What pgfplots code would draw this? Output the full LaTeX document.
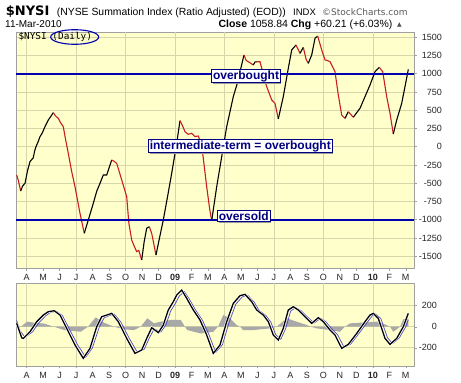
\documentclass[border=0pt]{standalone}
\usepackage{fontspec}
\setmainfont{Liberation Sans}
\newfontfamily\dejavu{DejaVu Sans}
\newfontfamily\dmono{DejaVu Sans Mono}
\usepackage{pgfplots}
\pgfplotsset{compat=1.18}
\usetikzlibrary{shadows}
\definecolor{bgy}{RGB}{255,255,204}
\definecolor{gridc}{RGB}{214,214,170}
\definecolor{navyb}{RGB}{0,0,175}
\definecolor{boxblue}{RGB}{0,0,128}
\definecolor{redl}{RGB}{200,30,35}
\definecolor{bluel}{RGB}{80,70,200}
\definecolor{grayarea}{RGB}{168,168,168}
\definecolor{framec}{RGB}{160,160,160}
\pgfplotsset{
  stk/.style={
    scale only axis, width=398pt,
    xmin=2.351, xmax=26.501,
    axis background/.style={fill=bgy},
    axis line style={framec},
    xtick={3,...,26},
    xticklabels={A,M,J,J,A,S,O,N,D,\textbf{09},F,M,A,M,J,J,A,S,O,N,D,\textbf{10},F,M},
    extra x ticks={3,6,9,12,15,18,21,24},
    extra x tick labels={},
    extra x tick style={grid=major, major tick length=0pt},
    tick align=outside, major tick length=2.5pt,
    tick style={framec, line width=0.4pt},
    xtick pos=bottom, ytick pos=right,
    yticklabel pos=right,
    ymajorgrids, grid style={gridc, line width=0.5pt},
    ticklabel style={font=\fontsize{9}{10}\selectfont, text=black!85},
    yticklabel style={anchor=east},
    clip=true,
  },
}
\tikzset{
  ann/.style={draw=boxblue, fill=white, line width=0.9pt, inner sep=1.2pt,
    text=boxblue, font=\bfseries\fontsize{12}{13}\selectfont,
    drop shadow={shadow xshift=1.3pt, shadow yshift=-1.3pt, fill=black!40, opacity=1}},
}
\begin{document}
\begin{tikzpicture}
\useasboundingbox (0,0) rectangle (461pt,-383pt);
\fill[white] (0,0) rectangle (461pt,-383pt);
% header
\node[anchor=base west, inner sep=0] at (5.7pt,-15.5pt) {\dejavu\bfseries\fontsize{13}{14}\selectfont \$NYSI};
\node[anchor=base west, inner sep=0] at (56.7pt,-15.5pt) {\fontsize{10.4}{12}\selectfont (NYSE Summation Index (Ratio Adjusted) (EOD))};
\node[anchor=base west, inner sep=0] at (293pt,-15.5pt) {\fontsize{9.5}{11}\selectfont INDX};
\node[anchor=base west, inner sep=0, text=black!65] at (322pt,-15.5pt) {\dejavu\fontsize{9}{10}\selectfont ©StockCharts.com};
\node[anchor=base west, inner sep=0] at (5pt,-27.3pt) {\fontsize{10}{12}\selectfont 11-Mar-2010};
\node[anchor=base west, inner sep=0] at (218.3pt,-27.3pt) {\fontsize{10.5}{12}\selectfont \textbf{Close} 1058.84 \textbf{Chg} +60.21 (+6.03\%)};
\node[anchor=base west, inner sep=0, text=black!70] at (397pt,-26.5pt) {\dejavu\fontsize{6}{7}\selectfont ▲};

% main panel
\begin{axis}[stk, at={(16pt,-32pt)}, anchor=north west, height=236pt,
  ymin=-1662, ymax=1571,
  ytick={-1500,-1250,-1000,-750,-500,-250,0,250,500,750,1000,1250,1500},
  yticklabels={-1500,-1250,-1000,-750,-500,-250,0,250,500,750,1000,1250,1500},
  yticklabel style={xshift=29pt},
]
\addplot[redl, line width=1.1pt] coordinates {(2.393,-388) (2.5,-470) (2.636,-607)};
\addplot[black, line width=1.1pt] coordinates {(2.636,-607) (2.75,-540) (2.897,-502) (3.05,-330) (3.200,-205) (3.400,-151) (3.48,-60) (3.564,0) (3.68,60) (3.807,137) (3.95,190) (4.110,274) (4.311,366) (4.45,410) (4.614,466)};
\addplot[redl, line width=1.1pt] coordinates {(4.614,466) (4.75,420) (4.917,389) (5.05,330) (5.221,274) (5.35,110) (5.524,-91) (5.72,-330) (5.931,-548) (6.234,-913) (6.495,-1187)};
\addplot[black, line width=1.1pt] coordinates {(6.495,-1187) (6.738,-1004) (7.041,-776) (7.25,-610) (7.448,-502) (7.648,-388) (7.854,-388) (8.158,-182)};
\addplot[redl, line width=1.1pt] coordinates {(8.158,-182) (8.30,-200) (8.461,-228) (8.6,-330) (8.765,-456) (9.068,-685) (9.2,-1050) (9.371,-1278) (9.5,-1350) (9.675,-1438) (9.8,-1420) (9.978,-1552)};
\addplot[black, line width=1.1pt] coordinates {(9.978,-1552) (10.13,-1300) (10.282,-1118) (10.439,-1096)};
\addplot[redl, line width=1.1pt] coordinates {(10.439,-1096) (10.585,-1187) (10.846,-1484)};
\addplot[black, line width=1.1pt] coordinates {(10.846,-1484) (11.05,-1260) (11.289,-1004) (11.55,-680) (11.799,-365) (12.102,47) (12.302,356)};
\addplot[redl, line width=1.1pt] coordinates {(12.302,356) (12.45,290) (12.606,205) (12.8,170) (13.012,183) (13.2,140) (13.413,146) (13.619,23) (13.922,-548) (14.1,-850) (14.226,-1014)};
\addplot[black, line width=1.1pt] coordinates {(14.226,-1014) (14.529,-548) (14.833,-137) (15.136,274) (15.536,685) (15.840,914) (16.0,1080) (16.186,1256)};
\addplot[redl, line width=1.1pt] coordinates {(16.186,1256) (16.32,1180) (16.447,1164) (16.750,1119)};
\addplot[black, line width=1.1pt] coordinates {(16.750,1119) (16.85,1160) (16.956,1164)};
\addplot[redl, line width=1.1pt] coordinates {(16.956,1164) (17.157,1164) (17.35,1000) (17.563,822) (17.867,640) (18.067,594) (18.267,380)};
\addplot[black, line width=1.1pt] coordinates {(18.267,380) (18.570,685) (18.874,1074) (19.080,1325) (19.341,1393)};
\addplot[redl, line width=1.1pt] coordinates {(19.341,1393) (19.584,1279)};
\addplot[black, line width=1.1pt] coordinates {(19.584,1279) (19.784,1361)};
\addplot[redl, line width=1.1pt] coordinates {(19.784,1361) (19.95,1200) (20.087,1142)};
\addplot[black, line width=1.1pt] coordinates {(20.087,1142) (20.294,1256) (20.494,1485) (20.658,1516)};
\addplot[redl, line width=1.1pt] coordinates {(20.658,1516) (20.901,1325) (21.101,1188) (21.25,1180) (21.404,1164) (21.708,1027) (21.908,708) (22.114,434) (22.314,389)};
\addplot[black, line width=1.1pt] coordinates {(22.314,389) (22.515,479)};
\addplot[redl, line width=1.1pt] coordinates {(22.515,479) (22.818,403)};
\addplot[black, line width=1.1pt] coordinates {(22.818,403) (23.225,526) (23.528,685) (23.831,845) (24.135,1027) (24.396,1087)};
\addplot[redl, line width=1.1pt] coordinates {(24.396,1087) (24.602,1027) (24.845,685) (25.045,457) (25.245,174)};
\addplot[black, line width=1.1pt] coordinates {(25.245,174) (25.452,366) (25.755,594) (25.955,822) (26.155,1058)};
\addplot[navyb, line width=2.3pt] coordinates {(2.351,1000) (26.501,1000)};
\addplot[navyb, line width=2.3pt] coordinates {(2.351,-1000) (26.501,-1000)};
\node[ann] at (axis cs:16.307,968) {overbought};
\node[ann] at (axis cs:15.961,10) {intermediate-term = overbought};
\node[ann] at (axis cs:16.174,-953) {oversold};
\end{axis}

\node[anchor=west, inner sep=0] at (18.3pt,-37pt) {\dmono\fontsize{9.4}{10}\selectfont \$NYSI (Daily)};
\draw[navyb, line width=1.1pt] (74.7pt,-37pt) ellipse (24pt and 7.3pt);

% lower panel
\begin{axis}[stk, at={(16pt,-283pt)}, anchor=north west, height=83pt,
  ymin=-374, ymax=416,
  ytick={-200,0,200}, yticklabels={-200,0,200},
  yticklabel style={xshift=24pt},
]
\addplot[fill=grayarea, draw=none] coordinates {(2.351,0) (2.636,0) (3.036,48) (3.443,38) (4.050,30) (4.657,0) (5.263,-32) (6.277,-48) (6.720,0) (7.187,89) (7.691,38) (8.297,0) (8.904,-25) (9.511,-32) (9.918,0) (10.318,80) (10.725,32) (11.131,48) (11.738,64) (12.345,64) (12.606,0) (12.745,-32) (13.558,-64) (14.323,-48) (14.608,0) (14.930,111) (15.336,80) (15.743,16) (15.943,0) (16.143,-32) (16.750,-32) (17.763,-16) (18.170,0) (18.777,80) (19.383,48) (19.990,16) (20.251,0) (20.597,-16) (21.404,-32) (22.011,-48) (22.314,0) (22.618,32) (23.225,38) (24.238,48) (24.845,16) (25.045,0) (25.245,-48) (25.652,0) (25.852,70) (26.155,80)} \closedcycle;
\addplot[bluel, line width=0.7pt] coordinates {(2.393,60) (2.6,-40) (2.9,-100) (3.35,-50) (3.75,40) (4.16,105) (4.46,138) (4.83,145) (5.17,105) (5.58,-20) (6.08,-170) (6.58,-290) (6.99,-200) (7.4,-5) (7.7,85) (8.0,105) (8.31,120) (8.71,45) (9.22,-110) (9.72,-245) (10.13,-215) (10.43,-110) (10.74,-20) (10.94,-35) (11.14,-50) (11.44,15) (11.74,150) (12.05,230) (12.25,290) (12.56,335) (12.86,265) (13.26,155) (13.67,60) (14.07,-80) (14.47,-245) (14.88,-170) (15.29,45) (15.69,215) (16.09,285) (16.4,300) (16.8,235) (17.1,155) (17.51,108) (17.81,45) (18.11,-75) (18.42,-120) (18.72,-15) (19.02,150) (19.33,182) (19.63,155) (20.04,92) (20.44,35) (20.84,80) (21.15,48) (21.55,-28) (21.86,-75) (22.26,-195) (22.66,-165) (23.17,-62) (23.68,45) (23.98,105) (24.18,120) (24.49,78) (24.89,-105) (25.2,-160) (25.6,-108) (26.0,0) (26.155,65)};
\addplot[white, line width=2.4pt, forget plot] coordinates {(2.393,32) (2.697,-105) (2.794,-111) (3.200,-48) (3.607,48) (4.007,111) (4.311,143) (4.675,152) (5.021,111) (5.427,-16) (5.931,-174) (6.434,-301) (6.841,-206) (7.248,0) (7.551,95) (7.854,111) (8.158,127) (8.558,48) (9.068,-111) (9.572,-254) (9.978,-222) (10.282,-111) (10.585,-10) (10.785,-32) (10.985,-57) (11.289,16) (11.592,159) (11.895,238) (12.102,302) (12.405,349) (12.709,270) (13.109,159) (13.516,64) (13.922,-79) (14.323,-254) (14.729,-174) (15.136,48) (15.536,222) (15.943,295) (16.246,308) (16.653,238) (16.956,159) (17.357,111) (17.660,48) (17.964,-79) (18.267,-127) (18.570,-16) (18.874,159) (19.177,190) (19.481,159) (19.887,95) (20.294,32) (20.694,86) (20.998,48) (21.404,-32) (21.708,-79) (22.114,-206) (22.515,-168) (23.024,-64) (23.528,48) (23.831,111) (24.031,127) (24.335,79) (24.742,-111) (25.045,-168) (25.452,-111) (25.852,0) (26.155,127)};
\addplot[black, line width=1.3pt] coordinates {(2.393,32) (2.697,-105) (2.794,-111) (3.200,-48) (3.607,48) (4.007,111) (4.311,143) (4.675,152) (5.021,111) (5.427,-16) (5.931,-174) (6.434,-301) (6.841,-206) (7.248,0) (7.551,95) (7.854,111) (8.158,127) (8.558,48) (9.068,-111) (9.572,-254) (9.978,-222) (10.282,-111) (10.585,-10) (10.785,-32) (10.985,-57) (11.289,16) (11.592,159) (11.895,238) (12.102,302) (12.405,349) (12.709,270) (13.109,159) (13.516,64) (13.922,-79) (14.323,-254) (14.729,-174) (15.136,48) (15.536,222) (15.943,295) (16.246,308) (16.653,238) (16.956,159) (17.357,111) (17.660,48) (17.964,-79) (18.267,-127) (18.570,-16) (18.874,159) (19.177,190) (19.481,159) (19.887,95) (20.294,32) (20.694,86) (20.998,48) (21.404,-32) (21.708,-79) (22.114,-206) (22.515,-168) (23.024,-64) (23.528,48) (23.831,111) (24.031,127) (24.335,79) (24.742,-111) (25.045,-168) (25.452,-111) (25.852,0) (26.155,127)};
\end{axis}
\end{tikzpicture}
\end{document}
